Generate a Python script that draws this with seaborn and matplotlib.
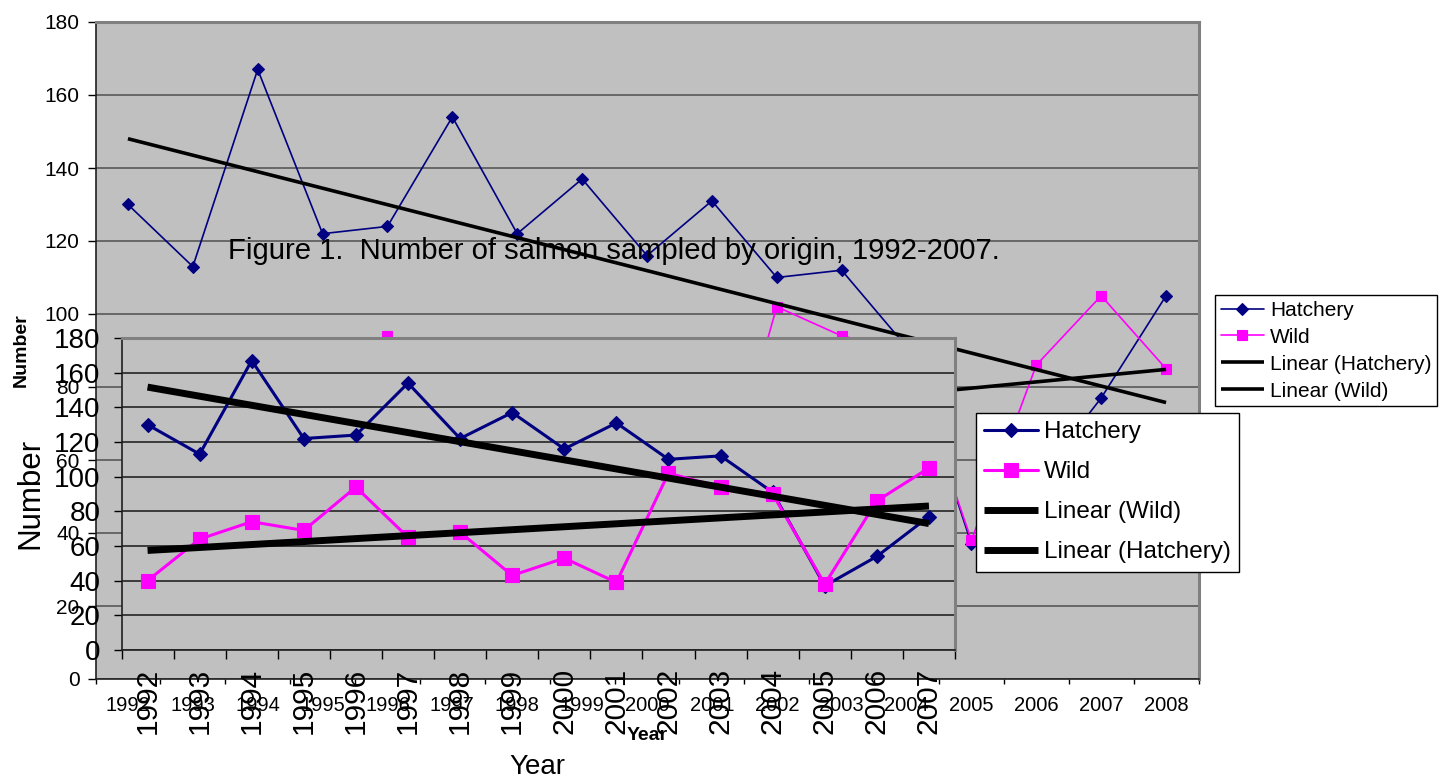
import numpy as np
import pandas as pd
import matplotlib
matplotlib.use("Agg")
import matplotlib.pyplot as plt
import seaborn as sns

# data
years = [str(y) for y in range(1992, 2009)]
hatchery = [130, 113, 167, 122, 124, 154, 122, 137, 116, 131, 110, 112, 91, 37, 54, 77, 105]
wild = [40, 64, 74, 69, 94, 65, 68, 43, 53, 39, 102, 94, 90, 38, 86, 105, 85]
n_small = 16  # the front chart stops at 2007

W, H = 1442, 778
NAVY = "#000080"
PINK = "#FF00FF"
GREY = "#C0C0C0"

sns.set_theme(style="white")
plt.rcParams["font.family"] = ["Liberation Sans", "DejaVu Sans"]
plt.rcParams.update({"text.color": "black", "axes.labelcolor": "black",
                     "xtick.color": "black", "ytick.color": "black"})

df = pd.DataFrame({"x": range(len(years)), "year": years,
                   "Hatchery": hatchery, "Wild": wild})


def box(l, t, r, b):
    # pixel box -> figure fraction
    return [l / W, 1 - b / H, (r - l) / W, (b - t) / H]


def draw(ax, d, lw, ms_d, ms_s, lw_trend, grid_col, ysize, xsize, xtick_rot, xpad, ypad, minor_len):
    ax.set_facecolor(GREY)
    sns.lineplot(data=d, x="x", y="Hatchery", ax=ax, color=NAVY, lw=lw, marker="D",
                 markersize=ms_d, markeredgecolor=NAVY, markeredgewidth=0.8, label="Hatchery")
    sns.lineplot(data=d, x="x", y="Wild", ax=ax, color=PINK, lw=lw, marker="s",
                 markersize=ms_s, markeredgecolor=PINK, markeredgewidth=0.8, label="Wild")
    for col in ["Hatchery", "Wild"]:
        sns.regplot(data=d, x="x", y=col, ax=ax, scatter=False, ci=None, color="black",
                    line_kws={"lw": lw_trend, "solid_capstyle": "butt"})
        ax.lines[-1].set_label("Linear (%s)" % col)
    n = len(d)
    ax.set_xlim(-0.5, n - 0.5)
    ax.set_ylim(0, 180)
    ax.set_yticks(range(0, 181, 20))
    ax.set_xticks(range(n))
    ax.set_xticklabels(d["year"], rotation=xtick_rot)
    ax.set_xticks(np.arange(-0.5, n), minor=True)
    ax.set(xlabel="", ylabel="")
    ax.grid(axis="y", color=grid_col, lw=1.3)
    ax.grid(axis="x", visible=False)
    ax.set_axisbelow(True)
    ax.tick_params(axis="x", which="major", length=0, pad=xpad, labelsize=xsize)
    ax.tick_params(axis="x", which="minor", length=minor_len, width=1, color="black",
                   direction="out", bottom=True)
    ax.tick_params(axis="y", length=6, width=1, color="black", direction="out",
                   left=True, pad=ypad, labelsize=ysize)
    for s in ["top", "right"]:
        ax.spines[s].set_color("#808080")
        ax.spines[s].set_linewidth(2.2)
    for s in ["left", "bottom"]:
        ax.spines[s].set_color("#202020")
        ax.spines[s].set_linewidth(1.2)
    handles, labels = ax.get_legend_handles_labels()
    return dict(zip(labels, handles))


fig = plt.figure(figsize=(W / 100, H / 100), dpi=100)

# back chart, 1992-2008
ax = fig.add_axes(box(95.5, 22, 1198.5, 679))
hb = draw(ax, df, lw=1.2, ms_d=6.5, ms_s=7.5, lw_trend=2.6, grid_col="#606060",
          ysize=15, xsize=14.5, xtick_rot=0, xpad=12, ypad=5.5, minor_len=3.5)
order = ["Hatchery", "Wild", "Linear (Hatchery)", "Linear (Wild)"]
ax.legend([hb[k] for k in order], order, loc="upper left",
          bbox_to_anchor=(1215 / W, 1 - 295 / H), bbox_transform=fig.transFigure,
          fontsize=15, frameon=True, fancybox=False, framealpha=1, edgecolor="black",
          borderaxespad=0, borderpad=0.28, labelspacing=0.38, handlelength=2.05,
          handletextpad=0.3)
ax.get_legend().get_frame().set_linewidth(1)

fig.text(21 / W, 1 - 350 / H, "Number", rotation=90, ha="center", va="center",
         fontsize=14, fontweight="bold")
fig.text(647 / W, 1 - 735 / H, "Year", ha="center", va="center",
         fontsize=14, fontweight="bold")

# front chart, 1992-2007
ax2 = fig.add_axes(box(121.5, 338, 955, 650))
hs = draw(ax2, df.iloc[:n_small], lw=2.2, ms_d=7.5, ms_s=10, lw_trend=5, grid_col="#303030",
          ysize=20, xsize=21.5, xtick_rot=90, xpad=13, ypad=9, minor_len=6.5)
order2 = ["Hatchery", "Wild", "Linear (Wild)", "Linear (Hatchery)"]
ax2.legend([hs[k] for k in order2], order2, loc="upper left",
           bbox_to_anchor=(975.5 / W, 1 - 412.7 / H), bbox_transform=fig.transFigure,
           fontsize=17.5, frameon=True, fancybox=False, framealpha=1, edgecolor="black",
           borderaxespad=0, borderpad=0.36, labelspacing=0.74, handlelength=2.2,
           handletextpad=0.25)
ax2.get_legend().get_frame().set_linewidth(1)

fig.text(30 / W, 1 - 493 / H, "Number", rotation=90, ha="center", va="center", fontsize=22.5)
fig.text(537 / W, 1 - 774 / H, "Year", ha="center", va="baseline", fontsize=20)

fig.text(228 / W, 1 - 259 / H, "Figure 1.  Number of salmon sampled by origin, 1992-2007.",
         ha="left", va="baseline", fontsize=21.1, color="black")

fig.savefig("out.png", dpi=100)
